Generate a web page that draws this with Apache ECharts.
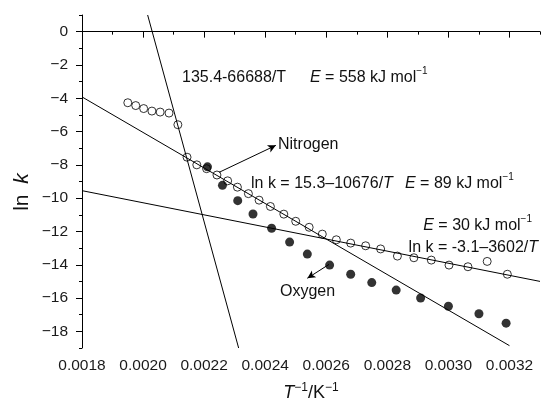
<!DOCTYPE html>
<html><head><meta charset="utf-8">
<script src="https://cdn.jsdelivr.net/npm/echarts@6/dist/echarts.min.js"></script>
<style>html,body{margin:0;padding:0;background:#fff}#c{width:546px;height:407px}</style>
</head><body><div id="c"></div>
<script>
// ---- data ----
const nitrogenX = [0.001950, 0.001976, 0.002002, 0.002029, 0.002056, 0.002085, 0.002114, 0.002144, 0.002176, 0.002208, 0.002242, 0.002277, 0.002309, 0.002345, 0.002380, 0.002417, 0.002461, 0.002500, 0.002544, 0.002587, 0.002633, 0.002680, 0.002729, 0.002778, 0.002833, 0.002887, 0.002944, 0.003002, 0.003064, 0.003127, 0.003193];
const nitrogenY = [-4.27, -4.44, -4.62, -4.77, -4.83, -4.89, -5.59, -7.54, -8.00, -8.23, -8.61, -8.96, -9.34, -9.73, -10.12, -10.50, -10.96, -11.39, -11.75, -12.16, -12.50, -12.70, -12.86, -13.05, -13.48, -13.58, -13.72, -14.02, -14.12, -13.80, -14.57];
const oxygenX = [0.002211, 0.002260, 0.002310, 0.002360, 0.002421, 0.002480, 0.002538, 0.002611, 0.002680, 0.002749, 0.002829, 0.002909, 0.003000, 0.003100, 0.003189];
const oxygenY = [-8.12, -9.23, -10.15, -10.95, -11.81, -12.64, -13.36, -14.02, -14.57, -15.07, -15.52, -16.00, -16.49, -16.94, -17.51];
// fitted lines (end points)
const fitSteepX = [0.002015, 0.002313];
const fitSteepY = [1, -19];
const fitMidX = [0.0018, 0.0032];
const fitMidY = [-3.92, -18.86];
const fitLowX = [0.0018, 0.0033];
const fitLowY = [-9.55, -15.0];
// annotation arrows (tail -> head)
const arrowNitrogen = [[0.002249, -8.45], [0.002435, -6.83]];
const arrowOxygen = [[0.002609, -13.98], [0.002538, -14.81]];
// ticks
const xTickLabels = [0.0018, 0.0020, 0.0022, 0.0024, 0.0026, 0.0028, 0.0030, 0.0032];
const xMinorTicks = [0.0018, 0.0019, 0.0020, 0.0021, 0.0022, 0.0023, 0.0024, 0.0025, 0.0026, 0.0027, 0.0028, 0.0029, 0.0030, 0.0031, 0.0032, 0.0033];
const yTickLabels = [-18, -16, -14, -12, -10, -8, -6, -4, -2, 0];
const yMinorTicks = [-19, -18, -17, -16, -15, -14, -13, -12, -11, -10, -9, -8, -7, -6, -5, -4, -3, -2, -1, 0, 1];

const F = '"Liberation Sans", Arial, Helvetica, sans-serif';
const zip = (xs, ys) => xs.map((x, i) => [x, ys[i]]);
const chart = echarts.init(document.getElementById('c'), null, {renderer: 'canvas'});

const axisLineStyle = {color: '#000', width: 1};
const supStyle = (fs, pad) => ({fontSize: fs, fontFamily: F, color: '#111', padding: [0, 0, pad, 0]});

const fitLine = (xs, ys) => ({
  type: 'line', data: zip(xs, ys), showSymbol: false, symbol: 'none', silent: true,
  lineStyle: {color: '#000', width: 1}, z: 2, xAxisIndex: 0, yAxisIndex: 0
});

const annot = (x, y, text, align) => ({
  type: 'text', x: x, y: y, silent: true,
  style: {
    text: text, fill: '#111', fontSize: 16, fontFamily: F,
    textAlign: align || 'left', textVerticalAlign: 'middle',
    rich: {
      i: {fontStyle: 'italic', fontSize: 16, fontFamily: F, color: '#111'},
      sup: supStyle(10, 14)
    }
  }
});

chart.setOption({
  animation: false,
  backgroundColor: '#fff',
  grid: {left: 82, right: 6, top: 15, bottom: 55, containLabel: false},
  xAxis: [{
    type: 'value', min: 0.0018, max: 0.0033, position: 'bottom',
    axisLine: {show: true, lineStyle: axisLineStyle},
    axisTick: {show: true, customValues: xMinorTicks, length: 3, inside: false, lineStyle: axisLineStyle},
    axisLabel: {customValues: xTickLabels, formatter: v => v.toFixed(4), fontSize: 15.5, fontFamily: F, color: '#1a1a1a', margin: 10},
    splitLine: {show: false},
    name: '{i|T}{sup|−1}/K{sup|−1}', nameLocation: 'middle', nameGap: 34,
    nameTextStyle: {fontSize: 18, fontFamily: F, color: '#111',
      rich: {i: {fontStyle: 'italic', fontSize: 18, fontFamily: F, color: '#111'}, sup: supStyle(12, 10)}}
  }, {
    type: 'value', min: 0.0018, max: 0.0033, position: 'bottom', offset: 0,
    axisLine: {show: false},
    axisTick: {show: true, customValues: xTickLabels, length: 6, inside: false, lineStyle: axisLineStyle},
    axisLabel: {show: false}, splitLine: {show: false}
  }],
  yAxis: [{
    type: 'value', min: -19, max: 1, position: 'left',
    axisLine: {show: true, lineStyle: axisLineStyle},
    axisTick: {show: true, customValues: yMinorTicks, length: 3, inside: false, lineStyle: axisLineStyle},
    axisLabel: {customValues: yTickLabels, formatter: v => v < 0 ? '−' + Math.abs(v) : String(v), fontSize: 15.5, fontFamily: F, color: '#1a1a1a', margin: 14},
    splitLine: {show: false}
  }, {
    type: 'value', min: -19, max: 1, position: 'left', offset: 0,
    axisLine: {show: false},
    axisTick: {show: true, customValues: yTickLabels, length: 6, inside: false, lineStyle: axisLineStyle},
    axisLabel: {show: false}, splitLine: {show: false}
  }],
  series: [
    fitLine(fitSteepX, fitSteepY),
    fitLine(fitMidX, fitMidY),
    fitLine(fitLowX, fitLowY),
    {
      name: 'Nitrogen', type: 'scatter', data: zip(nitrogenX, nitrogenY), symbol: 'circle', symbolSize: 8,
      itemStyle: {color: 'rgba(255,255,255,0)', borderColor: '#000', borderWidth: 1}, z: 4,
      xAxisIndex: 0, yAxisIndex: 0, silent: true,
      markLine: {
        silent: true, symbol: ['none', 'arrow'], symbolSize: [6, 8], animation: false,
        label: {show: false}, lineStyle: {color: '#000', width: 1, type: 'solid'},
        emphasis: {disabled: true},
        data: [
          [{coord: arrowNitrogen[0]}, {coord: arrowNitrogen[1]}],
          [{coord: arrowOxygen[0]}, {coord: arrowOxygen[1]}]
        ]
      }
    },
    {
      name: 'Oxygen', type: 'scatter', data: zip(oxygenX, oxygenY), symbol: 'circle', symbolSize: 9,
      itemStyle: {color: '#000', borderColor: '#000', borderWidth: 0}, z: 4,
      xAxisIndex: 0, yAxisIndex: 0, silent: true
    }
  ],
  graphic: [
    annot(182, 78, '135.4-66688/T'),
    annot(310, 78, '{i|E} = 558 kJ mol{sup|−1}'),
    annot(278, 145, 'Nitrogen'),
    annot(251, 184, 'ln k = 15.3–10676/{i|T}'),
    annot(405, 184, '{i|E} = 89 kJ mol{sup|−1}'),
    annot(532, 226, '{i|E} = 30 kJ mol{sup|−1}', 'right'),
    annot(538, 248, 'ln k = -3.1–3602/{i|T}', 'right'),
    annot(280, 292, 'Oxygen'),
    {
      type: 'text', x: 22, y: 192, rotation: Math.PI / 2, silent: true,
      style: {text: 'ln {i|k}', fill: '#111', fontSize: 21, fontFamily: F, textAlign: 'center', textVerticalAlign: 'middle',
        rich: {i: {fontStyle: 'italic', fontSize: 21, fontFamily: F, color: '#111', padding: [0, 0, 0, 5]}}}
    }
  ]
});
</script>
</body></html>
